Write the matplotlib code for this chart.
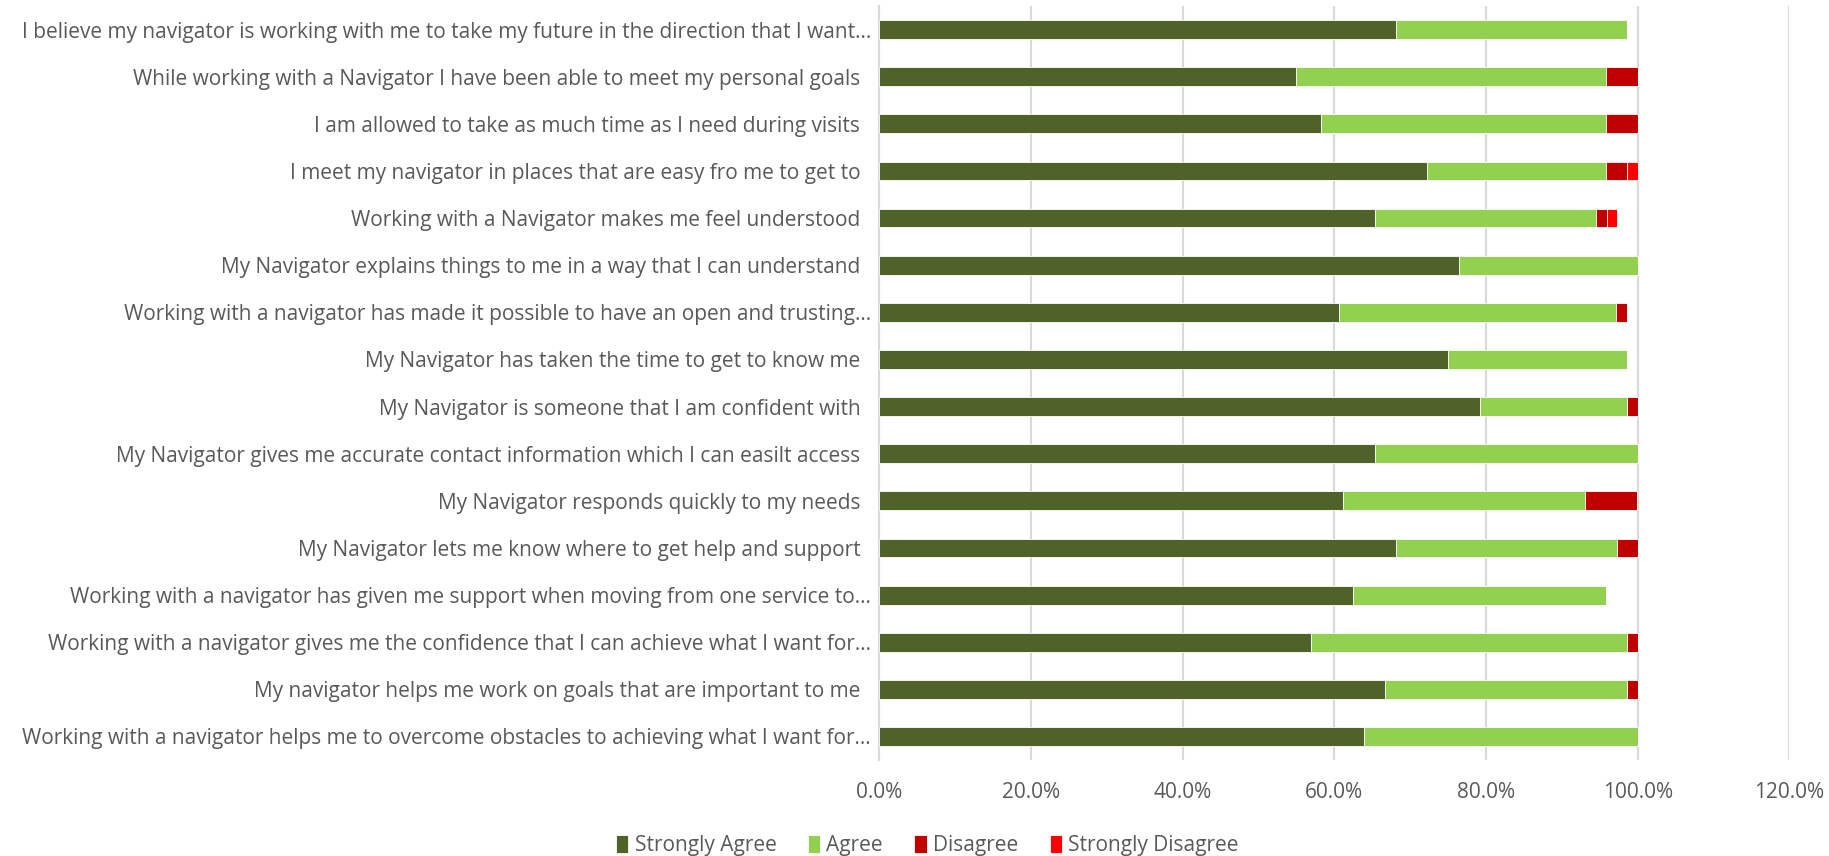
import matplotlib
matplotlib.use("Agg")
import matplotlib.pyplot as plt
import numpy as np

plt.rcParams["font.family"] = ["Liberation Sans Narrow", "Open Sans", "DejaVu Sans"]

questions = [
    "I believe my navigator is working with me to take my future in the direction that I want...",
    "While working with a Navigator I have been able to meet my personal goals",
    "I am allowed to take as much time as I need during visits",
    "I meet my navigator in places that are easy fro me to get to",
    "Working with a Navigator makes me feel understood",
    "My Navigator explains things to me in a way that I can understand",
    "Working with a navigator has made it possible to have an open and trusting...",
    "My Navigator has taken the time to get to know me",
    "My Navigator is someone that I am confident with",
    "My Navigator gives me accurate contact information which I can easilt access",
    "My Navigator responds quickly to my needs",
    "My Navigator lets me know where to get help and support",
    "Working with a navigator has given me support when moving from one service to...",
    "Working with a navigator gives me the confidence that I can achieve what I want for...",
    "My navigator helps me work on goals that are important to me",
    "Working with a navigator helps me to overcome obstacles to achieving what I want for...",
]
strongly_agree = [68.1, 55.0, 58.3, 72.2, 65.3, 76.4, 60.6, 75.0, 79.2, 65.3, 61.1, 68.1, 62.5, 56.9, 66.7, 63.9]
agree = [30.5, 40.8, 37.5, 23.6, 29.2, 23.6, 36.6, 23.6, 19.4, 34.7, 31.9, 29.2, 33.3, 41.7, 31.9, 36.1]
disagree = [0.0, 4.2, 4.2, 2.8, 1.4, 0.0, 1.4, 0.0, 1.4, 0.0, 6.9, 2.8, 0.0, 1.4, 1.4, 0.0]
strongly_disagree = [0.0, 0.0, 0.0, 1.4, 1.4, 0.0, 0.0, 0.0, 0.0, 0.0, 0.0, 0.0, 0.0, 0.0, 0.0, 0.0]

series = [
    ("Strongly Agree", strongly_agree, "#4F6228"),
    ("Agree", agree, "#92D050"),
    ("Disagree", disagree, "#C00000"),
    ("Strongly Disagree", strongly_disagree, "#FF0000"),
]

fig = plt.figure(figsize=(18.29, 8.56), dpi=100)
ax = fig.add_axes([0.4808, 0.1121, 0.4975, 0.8809])

y = np.arange(len(questions))
left = np.zeros(len(questions))
for name, vals, col in series:
    vals = np.array(vals) / 100
    ax.barh(y, vals, left=left, height=0.4, color=col, label=name,
            edgecolor="white", linewidth=0.6, zorder=3)
    left += vals

# untruncated labels sit a little further from the axis than the "..." ones
labels = [q if q.endswith("...") else q + "  " for q in questions]

ax.set_xlim(0, 1.2)
ax.set_ylim(len(questions) - 0.5, -0.5)
ax.set_xticks(np.arange(0, 1.21, 0.2))
ax.set_xticklabels([f"{v * 100:.1f}%" for v in np.arange(0, 1.21, 0.2)])
ax.set_yticks(y)
ax.set_yticklabels(labels)
ax.tick_params(axis="both", length=0, colors="#595959", labelsize=15)
ax.tick_params(axis="y", pad=6)
ax.tick_params(axis="x", pad=16)
ax.grid(axis="x", color="#D9D9D9", linewidth=1.5, zorder=0)
for s in ["top", "right", "bottom"]:
    ax.spines[s].set_visible(False)
ax.spines["left"].set_color("#D9D9D9")
ax.spines["left"].set_linewidth(1.5)

ax.legend(loc="center", bbox_to_anchor=(0.507, 0.012), bbox_transform=fig.transFigure,
          ncol=4, frameon=False, fontsize=15, labelcolor="#595959",
          handlelength=0.6, handleheight=0.9, handletextpad=0.3, columnspacing=1.5)

fig.savefig("out.png", dpi=100)
